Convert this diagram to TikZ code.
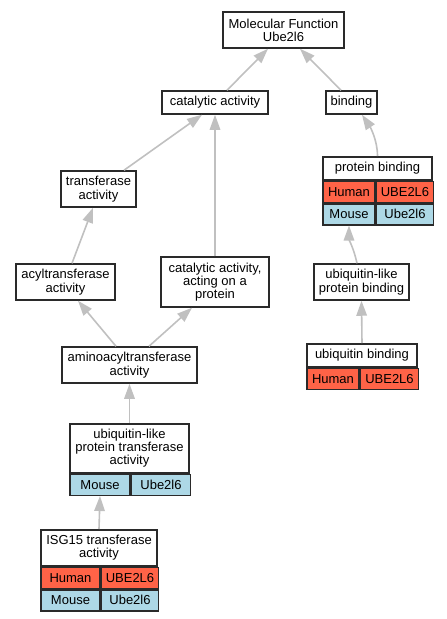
\documentclass[tikz,border=0pt]{standalone}
\usepackage{fontspec}
\setmainfont{Liberation Sans}
\usetikzlibrary{arrows.meta}
\definecolor{humanred}{HTML}{FF6347}
\definecolor{mouseblue}{HTML}{ADD8E6}
\definecolor{edgegray}{HTML}{C0C0C0}
\definecolor{bordergray}{HTML}{2A2A2A}
\tikzset{
  gobox/.style={draw=bordergray, line width=1.5pt, fill=white, align=center, inner sep=0pt,
    font=\fontsize{13}{13.3}\selectfont},
  cell/.style={draw=bordergray, line width=1.5pt, inner sep=0pt, anchor=north west,
    font=\fontsize{13}{13.3}\selectfont},
  human/.style={cell, fill=humanred},
  mouse/.style={cell, fill=mouseblue},
  edge/.style={draw=edgegray, line width=1.6pt, -{Triangle[length=15pt,width=10.5pt]}}
}
\begin{document}
\begin{tikzpicture}[x=1pt,y=-1pt]
\useasboundingbox (0,0) rectangle (447,619);
% plain nodes
\node[gobox, minimum width=121pt, minimum height=36pt] (mf) at (283.5,30) {Molecular Function\\Ube2l6};
\node[gobox, minimum width=106pt, minimum height=23pt] (cat) at (215,102.5) {catalytic activity};
\node[gobox, minimum width=51pt, minimum height=23pt] (bind) at (351.5,102.5) {binding};
\node[gobox, minimum width=75pt, minimum height=36pt] (trans) at (98.5,189) {transferase\\activity};
\node[gobox, minimum width=108pt, minimum height=50pt] (catprot) at (215,282) {catalytic activity,\\acting on a\\protein};
\node[gobox, minimum width=99pt, minimum height=36pt] (acyl) at (65.5,282) {acyltransferase\\activity};
\node[gobox, minimum width=95pt, minimum height=36pt] (ubl) at (361.5,282) {ubiquitin-like\\protein binding};
\node[gobox, minimum width=135pt, minimum height=36pt] (amino) at (129.5,365) {aminoacyltransferase\\activity};
% protein binding table
\node[gobox, anchor=north, minimum width=109pt, minimum height=23pt] (pb) at (377.5,156) {protein binding};
\node[human, minimum width=52pt, minimum height=21pt] (pbh) at (pb.south west) {Human};
\node[human, minimum width=57pt, minimum height=21pt] (pbhg) at (pbh.north east) {UBE2L6};
\node[mouse, minimum width=52pt, minimum height=21pt] (pbm) at (pbh.south west) {Mouse};
\node[mouse, minimum width=57pt, minimum height=21pt] (pbmg) at (pbm.north east) {Ube2l6};
% ubiquitin binding table
\node[gobox, anchor=north, minimum width=110pt, minimum height=23pt] (ub) at (362,343) {ubiquitin binding};
\node[human, minimum width=52pt, minimum height=21pt] (ubh) at (ub.south west) {Human};
\node[human, minimum width=58pt, minimum height=21pt] (ubhg) at (ubh.north east) {UBE2L6};
% ubiquitin-like protein transferase activity table
\node[gobox, anchor=north, minimum width=119pt, minimum height=49pt] (ulpt) at (129.5,423) {ubiquitin-like\\protein transferase\\activity};
\node[mouse, minimum width=60pt, minimum height=21pt] (ulptm) at (ulpt.south west) {Mouse};
\node[mouse, minimum width=59pt, minimum height=21pt] (ulptmg) at (ulptm.north east) {Ube2l6};
% ISG15 table
\node[gobox, anchor=north, minimum width=116pt, minimum height=36pt] (isg) at (99,529) {ISG15 transferase\\activity};
\node[human, minimum width=59pt, minimum height=21pt] (isgh) at (isg.south west) {Human};
\node[human, minimum width=57pt, minimum height=21pt] (isghg) at (isgh.north east) {UBE2L6};
\node[mouse, minimum width=59pt, minimum height=21pt] (isgm) at (isgh.south west) {Mouse};
\node[mouse, minimum width=57pt, minimum height=21pt] (isgmg) at (isgm.north east) {Ube2l6};
% edges
\draw[edge] ([xshift=12pt]cat.north) -- ([xshift=-15.5pt]mf.south);
\draw[edge] ([xshift=-10.5pt]bind.north) -- ([xshift=16.5pt]mf.south);
\draw[edge] ([xshift=25.5pt]trans.north) -- ([xshift=-13pt]cat.south);
\draw[edge] (catprot.north) -- (cat.south);
\draw[edge] (pb.north) .. controls +(0,-16) and +(8,12) .. ([xshift=10.5pt]bind.south);
\draw[edge] ([xshift=-4.5pt]ubl.north) .. controls +(-3,-14) and +(0,14) .. (pbm.south);
\draw[edge] (ub.north) -- (ubl.south);
\draw[edge] ([xshift=6.5pt]acyl.north) -- ([xshift=-5.5pt]trans.south);
\draw[edge] ([xshift=-13.5pt]amino.north) -- ([xshift=12.5pt]acyl.south);
\draw[edge] ([xshift=19.5pt]amino.north) -- ([xshift=-23pt]catprot.south);
\draw[edge] (ulpt.north) -- (amino.south);
\draw[edge] (isg.north) -- (ulptm.south);
\end{tikzpicture}
\end{document}
